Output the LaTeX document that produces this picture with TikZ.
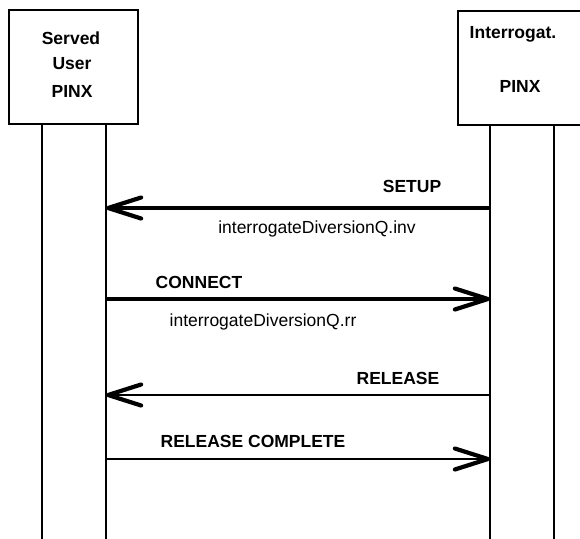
\documentclass[tikz,border=0pt]{standalone}
\usepackage{fontspec}
\setmainfont{Liberation Sans}
\usetikzlibrary{arrows.meta}
\begin{document}
\begin{tikzpicture}[x=1pt,y=-1pt,
  box/.style={draw=black,line width=2pt},
  life/.style={draw=black,line width=1.6pt},
  lbl/.style={font=\fontsize{17.5}{20}\selectfont\bfseries,inner sep=0pt},
  sub/.style={font=\fontsize{17.5}{20}\selectfont,inner sep=0pt},
  tip/.style={-{Straight Barb[length=33pt,width=21pt,line width=4.2pt,round]}},
  msgthick/.style={tip,line width=4.2pt},
  msgthin/.style={tip,line width=1.6pt}]
\useasboundingbox (0,0) rectangle (580,538);
\clip (0,0) rectangle (580,538);
\fill[white] (0,0) rectangle (580,538);
% boxes
\draw[box] (9,10) rectangle (138,124);
\draw[box] (458,11) rectangle (600,125);
\node[lbl] (t1) at (71,38) {Served};
\node[lbl] (t2) at (72,64) {User};
\node[lbl] (t3) at (72,91) {PINX};
\node[lbl] (t4) at (513,34) {Interrogat.};
\node[lbl] (t5) at (520,86) {PINX};
% lifelines
\coordinate (a1) at (42,124); \coordinate (a1e) at (42,540);
\coordinate (a2) at (106,124); \coordinate (a2e) at (106,540);
\coordinate (b1) at (490,125); \coordinate (b1e) at (490,540);
\coordinate (b2) at (554,125); \coordinate (b2e) at (554,540);
\draw[life] (a1) -- (a1e);
\draw[life] (a2) -- (a2e);
\draw[life] (b1) -- (b1e);
\draw[life] (b2) -- (b2e);
% messages
\coordinate (m1s) at (490,208); \coordinate (m1e) at (106,208);
\coordinate (m2s) at (106,299); \coordinate (m2e) at (490,299);
\coordinate (m3s) at (490,395); \coordinate (m3e) at (106,395);
\coordinate (m4s) at (106,459); \coordinate (m4e) at (490,459);
\draw[msgthick] (m1s) -- (m1e);
\draw[msgthick] (m2s) -- (m2e);
\draw[msgthin] (m3s) -- (m3e);
\draw[msgthin] (m4s) -- (m4e);
\node[lbl] (l1) at (412,186) {SETUP};
\node[sub] (l1b) at (317,229) {interrogateDiversionQ.inv};
\node[lbl] (l2) at (199,282) {CONNECT};
\node[sub] (l2b) at (263,322) {interrogateDiversionQ.rr};
\node[lbl] (l3) at (398,378) {RELEASE};
\node[lbl] (l4) at (253,441) {RELEASE COMPLETE};
\end{tikzpicture}
\end{document}
